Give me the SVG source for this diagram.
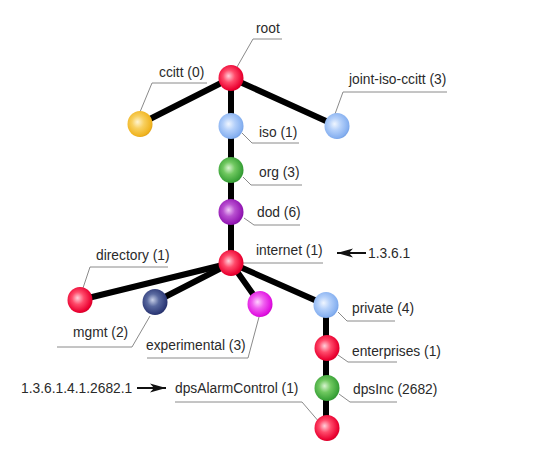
<svg xmlns="http://www.w3.org/2000/svg" width="559" height="462" viewBox="0 0 559 462">
<defs>
<radialGradient id="gRed" cx="0.45" cy="0.45" r="0.6" fx="0.4" fy="0.42"><stop offset="0" stop-color="#ffd0da"/><stop offset="0.4" stop-color="#ff4a6a"/><stop offset="0.85" stop-color="#ea0030"/><stop offset="1" stop-color="#c80024"/></radialGradient>
<radialGradient id="gYel" cx="0.45" cy="0.45" r="0.6" fx="0.4" fy="0.42"><stop offset="0" stop-color="#fff4d0"/><stop offset="0.4" stop-color="#f8d060"/><stop offset="0.85" stop-color="#f0b420"/><stop offset="1" stop-color="#d89810"/></radialGradient>
<radialGradient id="gBlue" cx="0.45" cy="0.45" r="0.6" fx="0.4" fy="0.42"><stop offset="0" stop-color="#f0f6ff"/><stop offset="0.4" stop-color="#b4d0fa"/><stop offset="0.85" stop-color="#86b0f0"/><stop offset="1" stop-color="#6a98e0"/></radialGradient>
<radialGradient id="gGreen" cx="0.45" cy="0.45" r="0.6" fx="0.4" fy="0.42"><stop offset="0" stop-color="#d8f4d0"/><stop offset="0.4" stop-color="#70c860"/><stop offset="0.85" stop-color="#3aa238"/><stop offset="1" stop-color="#2a8a2a"/></radialGradient>
<radialGradient id="gPurp" cx="0.45" cy="0.45" r="0.6" fx="0.4" fy="0.42"><stop offset="0" stop-color="#f0c8f8"/><stop offset="0.4" stop-color="#b850d0"/><stop offset="0.85" stop-color="#9418b4"/><stop offset="1" stop-color="#78109a"/></radialGradient>
<radialGradient id="gNavy" cx="0.45" cy="0.45" r="0.6" fx="0.4" fy="0.42"><stop offset="0" stop-color="#c8d0e8"/><stop offset="0.4" stop-color="#5a6aa0"/><stop offset="0.85" stop-color="#2e3a78"/><stop offset="1" stop-color="#1e2860"/></radialGradient>
<radialGradient id="gMag" cx="0.45" cy="0.45" r="0.6" fx="0.4" fy="0.42"><stop offset="0" stop-color="#ffd0ff"/><stop offset="0.4" stop-color="#f060f0"/><stop offset="0.85" stop-color="#e010e0"/><stop offset="1" stop-color="#c000c0"/></radialGradient>
<marker id="arr" viewBox="0 0 16 10" refX="16" refY="5" markerWidth="16" markerHeight="10" markerUnits="userSpaceOnUse" orient="auto"><path d="M0,0.5 L16,5 L0,9.5 L4,5 Z" fill="#111"/></marker>
</defs>
<style>
.c{stroke:#000;stroke-width:6;fill:none;stroke-linecap:round}
.l{stroke:#8a8a8a;stroke-width:1;fill:none}
.t{font-family:"Liberation Sans",Arial,sans-serif;font-size:13.8px;fill:#2a2a2a}
.a{stroke:#111;stroke-width:2;fill:none}
</style>
<rect width="559" height="462" fill="#fff"/>
<g id="connectors">
<line class="c" x1="231" y1="78" x2="140" y2="124"/>
<line class="c" x1="231" y1="78" x2="337" y2="126"/>
<line class="c" x1="231" y1="78" x2="231" y2="263"/>
<line class="c" x1="231" y1="263" x2="80" y2="300"/>
<line class="c" x1="231" y1="263" x2="155" y2="302"/>
<line class="c" x1="231" y1="263" x2="260" y2="304"/>
<line class="c" x1="231" y1="263" x2="326" y2="305"/>
<line class="c" x1="326" y1="305" x2="326" y2="428"/>
</g>
<g id="root"><polyline class="l" points="237,67 253,39 282,39"/><ellipse cx="231" cy="78" rx="12.5" ry="13" fill="url(#gRed)"/><text class="t" x="256" y="33">root</text></g>
<g id="ccitt"><polyline class="l" points="140,112 152,83 207,83"/><ellipse cx="140" cy="124" rx="12.5" ry="13" fill="url(#gYel)"/><text class="t" x="159" y="77">ccitt (0)</text></g>
<g id="joint"><polyline class="l" points="335,114 343,92 447,92"/><ellipse cx="337" cy="126" rx="12.5" ry="13" fill="url(#gBlue)"/><text class="t" x="349" y="84">joint-iso-ccitt (3)</text></g>
<g id="iso"><polyline class="l" points="242,133 252,143 299,143"/><ellipse cx="231" cy="126" rx="12.5" ry="13" fill="url(#gBlue)"/><text class="t" x="259" y="137">iso (1)</text></g>
<g id="org"><polyline class="l" points="243,177 251,185 302,185"/><ellipse cx="231" cy="170" rx="12.5" ry="13" fill="url(#gGreen)"/><text class="t" x="259" y="177">org (3)</text></g>
<g id="dod"><polyline class="l" points="244,218 254,225 300,225"/><ellipse cx="231" cy="212" rx="12.5" ry="13" fill="url(#gPurp)"/><text class="t" x="257" y="217">dod (6)</text></g>
<g id="internet"><line class="l" x1="243" y1="263" x2="323" y2="263"/><ellipse cx="231" cy="263" rx="12.5" ry="13" fill="url(#gRed)"/><text class="t" x="256" y="255">internet (1)</text></g>
<g id="oid-internet"><line class="a" x1="366" y1="253" x2="337" y2="253" marker-end="url(#arr)"/><text class="t" x="368" y="258">1.3.6.1</text></g>
<g id="directory"><polyline class="l" points="83,288 90,267 168,267"/><ellipse cx="80" cy="300" rx="12.5" ry="13" fill="url(#gRed)"/><text class="t" x="96" y="260">directory (1)</text></g>
<g id="mgmt"><polyline class="l" points="150,316 132,347 57,347"/><ellipse cx="155" cy="302" rx="12.5" ry="13" fill="url(#gNavy)"/><text class="t" x="73" y="337">mgmt (2)</text></g>
<g id="experimental"><polyline class="l" points="259,317 248,358 147,358"/><ellipse cx="260" cy="304" rx="12.5" ry="13" fill="url(#gMag)"/><text class="t" x="146" y="350">experimental (3)</text></g>
<g id="private"><polyline class="l" points="338,312 347,321 395,321"/><ellipse cx="326" cy="305" rx="12.5" ry="13" fill="url(#gBlue)"/><text class="t" x="352" y="313">private (4)</text></g>
<g id="enterprises"><polyline class="l" points="338,355 348,362 397,362"/><ellipse cx="327" cy="348" rx="12.5" ry="13" fill="url(#gRed)"/><text class="t" x="352" y="356">enterprises (1)</text></g>
<g id="dpsInc"><polyline class="l" points="339,394 350,402 397,402"/><ellipse cx="327" cy="388" rx="12.5" ry="13" fill="url(#gGreen)"/><text class="t" x="353" y="394">dpsInc (2682)</text></g>
<g id="dpsAlarmControl"><polyline class="l" points="175,402 302,402 320,423"/><ellipse cx="327" cy="428" rx="12.5" ry="13" fill="url(#gRed)"/><text class="t" x="175" y="393">dpsAlarmControl (1)</text></g>
<g id="oid-dpsAlarmControl"><text class="t" x="21" y="393">1.3.6.1.4.1.2682.1</text><line class="a" x1="137" y1="388" x2="166" y2="388" marker-end="url(#arr)"/></g>
</svg>
